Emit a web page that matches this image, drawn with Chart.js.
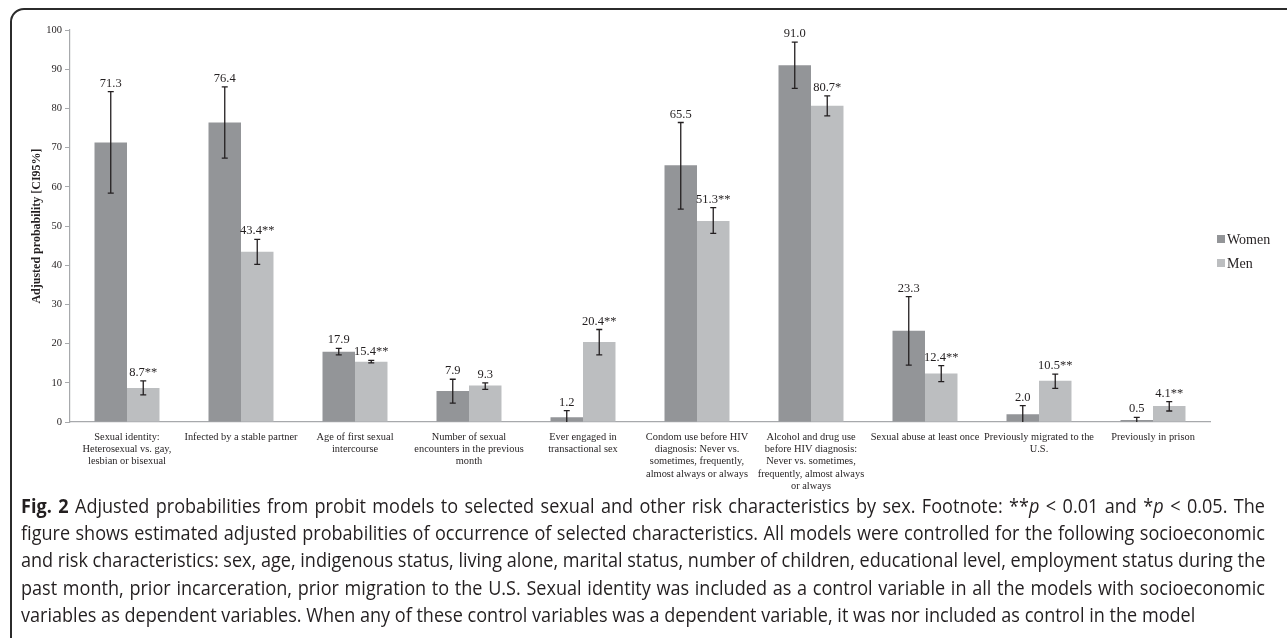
<!DOCTYPE html>
<html>
<head>
<meta charset="utf-8">
<script src="https://cdn.jsdelivr.net/npm/chart.js@4.4.0/dist/chart.umd.min.js"></script>
<style>
    body { margin: 0; background: #fff; width: 1287px; height: 638px; overflow: hidden; position: relative; }
    #frame { position: absolute; left: 10px; top: 8px; width: 1320px; height: 660px; border: 2px solid #2b2b2b; border-radius: 14px; box-sizing: border-box; }
    #wrap { position: absolute; left: 0; top: 0; width: 1287px; height: 495px; }
    #caption { position: absolute; left: 21px; top: 492px; font-family: 'Open Sans', sans-serif; font-size: 20px; line-height: 27.2px; color: #231f20; transform-origin: 0 0; }
    #caption div { white-space: nowrap; }
    #caption .j { text-align: justify; text-align-last: justify; }
</style>
</head>
<body>
<div id="frame"></div>
<div id="wrap"><canvas id="myChart"></canvas></div>
<div id="caption">
    <div class="j"><b>Fig. 2</b> Adjusted probabilities from probit models to selected sexual and other risk characteristics by sex. Footnote: **<i>p</i> &lt; 0.01 and *<i>p</i> &lt; 0.05. The</div>
    <div class="j">figure shows estimated adjusted probabilities of occurrence of selected characteristics. All models were controlled for the following socioeconomic</div>
    <div class="j">and risk characteristics: sex, age, indigenous status, living alone, marital status, number of children, educational level, employment status during the</div>
    <div class="j">past month, prior incarceration, prior migration to the U.S. Sexual identity was included as a control variable in all the models with socioeconomic</div>
    <div>variables as dependent variables. When any of these control variables was a dependent variable, it was nor included as control in the model</div>
</div>
<script>
const categories = [
    ['Sexual identity:', 'Heterosexual vs. gay,', 'lesbian or bisexual'],
    ['Infected by a stable partner'],
    ['Age of first sexual', 'intercourse'],
    ['Number of sexual', 'encounters in the previous', 'month'],
    ['Ever engaged in', 'transactional sex'],
    ['Condom use before HIV', 'diagnosis: Never vs.', 'sometimes, frequently,', 'almost always or always'],
    ['Alcohol and drug use', 'before HIV diagnosis:', 'Never vs. sometimes,', 'frequently, almost always', 'or always'],
    ['Sexual abuse at least once'],
    ['Previously migrated to the', 'U.S.'],
    ['Previously in prison']
];
const women = [71.3, 76.4, 17.9, 7.9, 1.2, 65.5, 91.0, 23.3, 2.0, 0.5];
const womenLow = [58.4, 67.3, 17.1, 4.8, 0, 54.3, 85.1, 14.5, 0, 0];
const womenHigh = [84.3, 85.5, 18.8, 10.9, 2.9, 76.4, 96.9, 32.0, 4.2, 1.2];
const womenSig = ['', '', '', '', '', '', '', '', '', ''];
const men = [8.7, 43.4, 15.4, 9.3, 20.4, 51.3, 80.7, 12.4, 10.5, 4.1];
const menLow = [6.9, 40.2, 15.1, 8.3, 17.1, 48.1, 78.1, 10.3, 8.6, 2.8];
const menHigh = [10.5, 46.6, 15.7, 10.0, 23.6, 54.7, 83.2, 14.4, 12.2, 5.2];
const menSig = ['**', '**', '**', '', '**', '**', '*', '**', '**', '**'];
const yTicks = [0, 10, 20, 30, 40, 50, 60, 70, 80, 90, 100];

const serif = "'Liberation Serif', 'Times New Roman', serif";
const ink = '#231f20';

// error bars + value labels
const errorBars = {
    id: 'errorBars',
    afterDatasetsDraw(chart) {
        const ctx = chart.ctx;
        const y = chart.scales.y;
        chart.data.datasets.forEach((ds, i) => {
            const meta = chart.getDatasetMeta(i);
            meta.data.forEach((bar, j) => {
                const top = y.getPixelForValue(ds.high[j]);
                const bot = y.getPixelForValue(ds.low[j]);
                ctx.save();
                ctx.strokeStyle = ink;
                ctx.lineWidth = 1.3;
                ctx.beginPath();
                ctx.moveTo(bar.x, top);
                ctx.lineTo(bar.x, bot);
                ctx.moveTo(bar.x - 3, top);
                ctx.lineTo(bar.x + 3, top);
                if (ds.low[j] > 0) {
                    ctx.moveTo(bar.x - 3, bot);
                    ctx.lineTo(bar.x + 3, bot);
                }
                ctx.stroke();
                ctx.fillStyle = ink;
                ctx.font = '12.5px ' + serif;
                ctx.textAlign = 'center';
                ctx.textBaseline = 'bottom';
                ctx.fillText(ds.data[j].toFixed(1) + ds.sig[j], bar.x, top - 2);
                ctx.restore();
            });
        });
    }
};

// legend at right
const sideLegend = {
    id: 'sideLegend',
    afterDraw(chart) {
        const ctx = chart.ctx;
        chart.data.datasets.forEach((ds, i) => {
            const yy = 239 + i * 24;
            ctx.save();
            ctx.fillStyle = ds.backgroundColor;
            ctx.fillRect(1217, yy - 4, 8, 8);
            ctx.fillStyle = ink;
            ctx.font = '14px ' + serif;
            ctx.textBaseline = 'middle';
            ctx.fillText(ds.label, 1227, yy + 1);
            ctx.restore();
        });
    }
};

new Chart(document.getElementById('myChart'), {
    type: 'bar',
    data: {
        labels: categories,
        datasets: [
            { label: 'Women', data: women, low: womenLow, high: womenHigh, sig: womenSig, backgroundColor: '#939598' },
            { label: 'Men', data: men, low: menLow, high: menHigh, sig: menSig, backgroundColor: '#bcbec0' }
        ]
    },
    options: {
        responsive: true,
        maintainAspectRatio: false,
        animation: false,
        categoryPercentage: 0.57,
        barPercentage: 1.0,
        layout: { padding: { left: 20, top: 30, right: 77, bottom: 0 } },
        plugins: { legend: { display: false }, tooltip: { enabled: false } },
        scales: {
            x: {
                grid: { display: false },
                border: { color: '#a7a9ac', width: 1.2 },
                ticks: { color: ink, maxRotation: 0, autoSkip: false, padding: 1, font: { family: serif, size: 10.4, lineHeight: 1.18 } },
                afterFit: s => { s.height = 73; }
            },
            y: {
                min: 0,
                max: 100,
                afterBuildTicks: s => { s.ticks = yTicks.map(v => ({ value: v })); },
                grid: { drawOnChartArea: false, drawTicks: true, tickLength: 5, color: '#a7a9ac' },
                border: { color: '#a7a9ac', width: 1.2 },
                ticks: { color: ink, padding: 3, font: { family: serif, size: 10.5 } },
                title: { display: true, text: 'Adjusted probability [CI95%]', color: ink, padding: { top: 10, bottom: 0 }, font: { family: serif, size: 12, weight: 'bold' } },
                afterFit: s => { s.width = 50; }
            }
        }
    },
    plugins: [errorBars, sideLegend]
});

// fit caption lines to the figure width (offsetWidth ignores the transform)
function fitCaption() {
    const cap = document.getElementById('caption');
    const lines = cap.querySelectorAll('div');
    let widest = 0;
    lines.forEach(d => {
        const probe = document.createElement('span');
        probe.style.cssText = 'position:absolute;visibility:hidden;white-space:nowrap';
        probe.innerHTML = d.innerHTML;
        cap.appendChild(probe);
        widest = Math.max(widest, probe.offsetWidth);
        cap.removeChild(probe);
    });
    lines.forEach(d => { d.style.width = widest + 'px'; });
    cap.style.transform = 'scaleX(' + (1244 / widest) + ')';
}
fitCaption();
if (document.fonts) document.fonts.ready.then(fitCaption);
</script>
</body>
</html>
